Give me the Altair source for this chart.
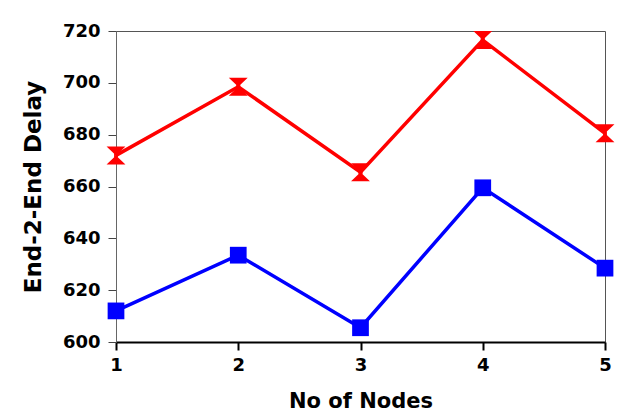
import altair as alt
import pandas as pd

nodes = [1, 2, 3, 4, 5]
original_dsr = [612, 633.5, 605.5, 659.5, 628.5]
malicious_dsr = [672, 698.5, 665.5, 716.5, 680.5]
series_names = ["Original DSR", "Malicious DSR"]
series_colors = ["#0000FF", "#FF0000"]
x_ticks = [1, 2, 3, 4, 5]
y_ticks = [600, 620, 640, 660, 680, 700, 720]

rows = []
for n, v in zip(nodes, original_dsr):
    rows.append({"node": n, "series": series_names[0], "delay": v})
for n, v in zip(nodes, malicious_dsr):
    rows.append({"node": n, "series": series_names[1], "delay": v})
df = pd.DataFrame(rows)

W, H = 489, 311
FONT = "DejaVu Sans"

hourglass = "M-1.05,-1L1.05,-1L0,0L1.05,1L-1.05,1L0,0Z"
legend_line = "M-3.6,0H3.6"
legend_hourglass = "M-1.15,-1.1L1.15,-1.1L0,0L1.15,1.1L-1.15,1.1L0,0Z"

color_scale = alt.Scale(domain=series_names, range=series_colors)

x_enc = alt.X(
    "node:Q",
    scale=alt.Scale(domain=[1, 5], nice=False, zero=False),
    axis=alt.Axis(
        values=x_ticks, format="d", title="No of Nodes", grid=False,
        tickSize=8, tickWidth=2, tickColor="black",
        domainColor="black", domainWidth=2, labelFlush=False,
        labelFont=FONT, labelFontWeight="bold", labelFontSize=18,
        labelColor="black", labelPadding=6,
        titleFont=FONT, titleFontWeight="bold", titleFontSize=21,
        titleColor="black", titlePadding=16,
    ),
)
y_enc = alt.Y(
    "delay:Q",
    scale=alt.Scale(domain=[600, 720], nice=False, zero=False),
    axis=alt.Axis(
        values=y_ticks, title="End-2-End Delay", grid=False,
        tickSize=8, tickWidth=1, tickColor="#444444",
        domainColor="#666666", domainWidth=1, labelFlush=False,
        labelFont=FONT, labelFontWeight="bold", labelFontSize=18,
        labelColor="black", labelPadding=8,
        titleFont=FONT, titleFontWeight="bold", titleFontSize=23,
        titleColor="black", titlePadding=17,
    ),
)

LEG_X, LEG_Y, ROW = 137, -18, 20
common = dict(
    title=None, orient="none", legendX=LEG_X,
    padding=10, rowPadding=2, clipHeight=18,
    symbolOffset=19, labelOffset=29, symbolSize=256,
    labelFont=FONT, labelFontSize=14, labelColor="black",
)

base = alt.Chart(df)

lines = base.mark_line(strokeWidth=3.5).encode(
    x=x_enc, y=y_enc,
    color=alt.Color("series:N", scale=color_scale, legend=None),
)

# legend box with the coloured line of each series
leg_lines = base.mark_point(filled=False, size=4, shape="square").encode(
    x=x_enc, y=y_enc,
    stroke=alt.Stroke("series:N", scale=color_scale, legend=alt.Legend(
        legendY=LEG_Y, symbolType=legend_line, symbolStrokeWidth=3.5,
        strokeColor="black", fillColor="white", zindex=1, **common,
    )),
)

# legend marker of the first series, laid over its row
leg_sq = base.transform_filter(
    alt.datum.series == series_names[0]
).mark_point(filled=False, size=4, shape="square", color=series_colors[0]).encode(
    x=x_enc, y=y_enc,
    opacity=alt.Opacity("series:N", scale=alt.Scale(domain=[series_names[0]], range=[1]),
                        legend=alt.Legend(
        legendY=LEG_Y, symbolType="square", symbolFillColor=series_colors[0],
        symbolStrokeWidth=0, labelOpacity=0, zindex=2, **common,
    )),
)

# legend marker of the second series, laid over its row
leg_hg = base.transform_filter(
    alt.datum.series == series_names[1]
).mark_point(filled=False, size=4, shape="square", color=series_colors[1]).encode(
    x=x_enc, y=y_enc,
    fillOpacity=alt.FillOpacity("series:N", scale=alt.Scale(domain=[series_names[1]], range=[1]),
                                legend=alt.Legend(
        legendY=LEG_Y + ROW, symbolType=legend_hourglass, symbolFillColor=series_colors[1],
        symbolStrokeWidth=0, labelOpacity=0, zindex=2, **common,
    )),
)

pts_orig = base.transform_filter(
    alt.datum.series == series_names[0]
).mark_point(shape="square", filled=True, size=280, opacity=1,
             color=series_colors[0]).encode(x=x_enc, y=y_enc)

pts_mal = base.transform_filter(
    alt.datum.series == series_names[1]
).mark_point(shape=hourglass, filled=True, size=324, opacity=1,
             color=series_colors[1]).encode(x=x_enc, y=y_enc)

chart = alt.layer(
    lines, leg_lines, leg_sq, leg_hg, pts_orig, pts_mal
).properties(
    width=W, height=H,
    autosize=alt.AutoSizeParams(type="none"),
    padding={"left": 108, "top": 23, "right": 13, "bottom": 69},
    background="white",
).configure_view(
    stroke="#555555", strokeWidth=1
)

chart.save("out.html", embed_options={"renderer": "svg", "actions": False})
